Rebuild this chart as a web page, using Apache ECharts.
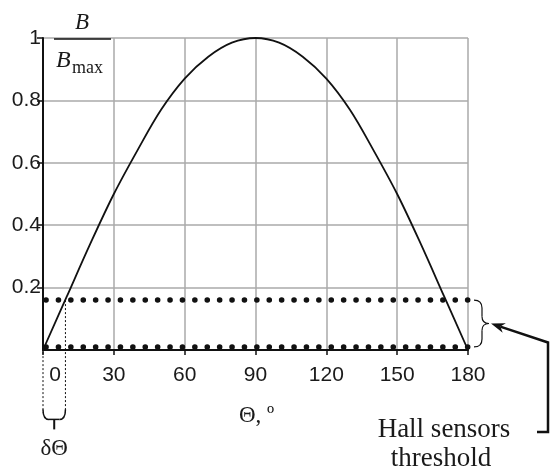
<!DOCTYPE html>
<html>
<head>
<meta charset="utf-8">
<script src="https://cdn.jsdelivr.net/npm/echarts@6/dist/echarts.min.js"></script>
<style>
  html, body { margin: 0; padding: 0; background: #fff; }
  #chart { width: 552px; height: 470px; }
</style>
</head>
<body>
<div id="chart"></div>
<script>
// field ratio B/Bmax, every 10 degrees
var thetaDeg = [0, 10, 20, 30, 40, 50, 60, 70, 80, 90, 100, 110, 120, 130, 140, 150, 160, 170, 180];
var bRatio = [0, 0.17, 0.34, 0.5, 0.64, 0.77, 0.87, 0.94, 0.985, 1, 0.985, 0.94, 0.87, 0.77, 0.64, 0.5, 0.34, 0.17, 0];
var xTicks = [0, 30, 60, 90, 120, 150, 180];
// hall sensor threshold band (dotted lines) and the dead angle
var thresholdHigh = 0.16;
var thresholdLow = 0.01;
var deltaTheta = 9.5;
var deltaBottom = -0.2; // where the dead-angle marks stop, below the axis

var chart = echarts.init(document.getElementById('chart'), null, { renderer: 'canvas' });

var sans = 'Liberation Sans, Arial, sans-serif';
var serif = 'Liberation Serif, Times New Roman, serif';
var ink = '#111';

function dots(v) {
  return [[xTicks[0], v], [xTicks[xTicks.length - 1], v]];
}

var option = {
  animation: false,
  backgroundColor: '#fff',
  grid: { left: 43, right: 84, top: 38, bottom: 120 },
  xAxis: {
    type: 'value',
    min: 0, max: 180, interval: 30,
    axisLine: { show: true, onZero: false, lineStyle: { color: ink, width: 2 } },
    axisTick: { show: true, length: 5, lineStyle: { color: ink, width: 1.5 } },
    splitLine: { show: true, lineStyle: { color: '#aaa', width: 1.5 } },
    axisLabel: {
      color: '#1a1a1a', fontSize: 21, fontFamily: sans, margin: 15,
      formatter: function (v) { return v === 0 ? '{z|0}' : String(v); },
      rich: { z: { fontSize: 21, fontFamily: sans, color: '#1a1a1a', padding: [0, 0, 0, 24] } }
    }
  },
  yAxis: {
    type: 'value',
    min: 0, max: 1, interval: 0.2,
    axisLine: { show: true, lineStyle: { color: ink, width: 2 } },
    axisTick: { show: true, length: 6, lineStyle: { color: ink, width: 1.5 } },
    splitLine: { show: true, lineStyle: { color: '#aaa', width: 1.5 } },
    axisLabel: {
      color: '#1a1a1a', fontSize: 21, fontFamily: sans, margin: 2,
      showMinLabel: false, padding: [10, 0, 0, 0]
    }
  },
  series: [
    {
      name: 'B/Bmax',
      type: 'line',
      data: thetaDeg.map(function (t, i) { return [t, bRatio[i]]; }),
      smooth: 0.35,
      showSymbol: false,
      lineStyle: { color: ink, width: 1.8 },
      z: 5
    },
    {
      name: 'threshold high',
      type: 'line',
      data: dots(thresholdHigh),
      showSymbol: false,
      lineStyle: { color: ink, width: 5.5, type: [0.1, 12.3], cap: 'round', dashOffset: -3 },
      z: 4
    },
    {
      name: 'threshold low',
      type: 'line',
      data: dots(thresholdLow),
      showSymbol: false,
      lineStyle: { color: ink, width: 5.5, type: [0.1, 12.3], cap: 'round', dashOffset: -3 },
      z: 4
    },
    {
      name: 'dead angle left',
      type: 'line',
      clip: false,
      data: [[0, thresholdHigh], [0, deltaBottom]],
      showSymbol: false,
      lineStyle: { color: ink, width: 1, type: [2, 2] },
      z: 3
    },
    {
      name: 'dead angle right',
      type: 'line',
      clip: false,
      data: [[deltaTheta, thresholdHigh], [deltaTheta, deltaBottom]],
      showSymbol: false,
      lineStyle: { color: ink, width: 1, type: [2, 2] },
      z: 3
    }
  ]
};

chart.setOption(option);

// annotations placed from the axis scales
var p0 = chart.convertToPixel({ gridIndex: 0 }, [0, thresholdHigh]);
var pd = chart.convertToPixel({ gridIndex: 0 }, [deltaTheta, deltaBottom]);
var pLow = chart.convertToPixel({ gridIndex: 0 }, [180, thresholdLow]);
var pTop = chart.convertToPixel({ gridIndex: 0 }, [0, 1]);

var L = p0[0], R = pd[0], yb = pd[1] - 3, mid = (L + R) / 2;
var bx = pLow[0] + 6, yH = p0[1], yL = pLow[1], ym = (yH + yL) / 2;

function seg(x1, y1, x2, y2, w) {
  return { type: 'line', shape: { x1: x1, y1: y1, x2: x2, y2: y2 }, style: { stroke: ink, lineWidth: w } };
}
function curve(x1, y1, cx, cy, x2, y2, w) {
  return { type: 'bezierCurve', shape: { x1: x1, y1: y1, cpx1: cx, cpy1: cy, x2: x2, y2: y2 }, style: { stroke: ink, lineWidth: w, fill: null } };
}

// arrow: from the right margin back to the brace
var tip = [bx + 17, ym];
var tail = [bx + 74, ym + 19];
var dx = tip[0] - tail[0], dy = tip[1] - tail[1];
var len = Math.sqrt(dx * dx + dy * dy);
var ux = dx / len, uy = dy / len;
var head = 14, half = 5;
var base = [tip[0] - ux * head, tip[1] - uy * head];
var notch = [tip[0] - ux * head * 0.7, tip[1] - uy * head * 0.7];

var by = yb + 10, bxr = bx + 8;

chart.setOption({
  graphic: [
    { type: 'text', style: { text: 'B', x: 82, y: 34, font: 'italic 23px ' + serif, fill: '#1a1a1a', align: 'center', verticalAlign: 'bottom' } },
    seg(54, pTop[1] + 1, 111, pTop[1] + 1, 1.5),
    { type: 'text', style: { text: 'B', x: 56, y: 73, font: 'italic 24px ' + serif, fill: '#1a1a1a', verticalAlign: 'bottom' } },
    { type: 'text', style: { text: 'max', x: 72, y: 77, font: '18px ' + serif, fill: '#1a1a1a', verticalAlign: 'bottom' } },
    { type: 'text', style: { text: 'Θ, º', x: 239, y: 427, font: '23px ' + serif, fill: '#1a1a1a', verticalAlign: 'bottom' } },
    { type: 'text', style: { text: 'δΘ', x: mid, y: 460, font: '23px ' + serif, fill: '#1a1a1a', align: 'center', verticalAlign: 'bottom' } },
    { type: 'text', style: { text: 'Hall sensors', x: 444, y: 443, font: '27px ' + serif, fill: '#1a1a1a', align: 'center', verticalAlign: 'bottom' } },
    { type: 'text', style: { text: 'threshold', x: 441, y: 472, font: '27px ' + serif, fill: '#1a1a1a', align: 'center', verticalAlign: 'bottom' } },
    // brace under the dead angle
    curve(L, yb, L, by, L + 6, by, 1.5),
    seg(L + 6, by, R - 6, by, 1.5),
    curve(R - 6, by, R, by, R, yb, 1.5),
    seg(mid, by, mid, by + 10, 2),
    // brace on the threshold band
    curve(bx, yH, bxr, yH, bxr, yH + 8, 1.2),
    seg(bxr, yH + 8, bxr, ym - 7, 1.2),
    curve(bxr, ym - 7, bxr, ym, bxr + 7, ym, 1.2),
    curve(bxr + 7, ym, bxr, ym, bxr, ym + 7, 1.2),
    seg(bxr, ym + 7, bxr, yL - 8, 1.2),
    curve(bxr, yL - 8, bxr, yL, bx, yL, 1.2),
    {
      type: 'polyline',
      shape: { points: [[537, 432], [tail[0], 432], tail, notch] },
      style: { stroke: ink, lineWidth: 2.5, fill: null }
    },
    {
      type: 'polygon',
      shape: { points: [tip, [base[0] - uy * half, base[1] + ux * half], notch, [base[0] + uy * half, base[1] - ux * half]] },
      style: { fill: ink }
    }
  ]
});

window.addEventListener('resize', function () { chart.resize(); });
</script>
</body>
</html>
